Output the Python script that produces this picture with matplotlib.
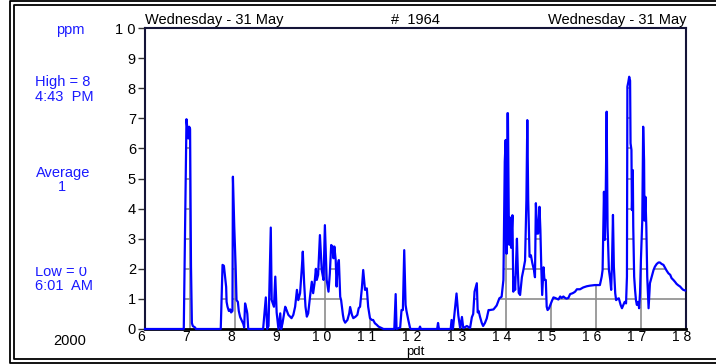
import matplotlib
matplotlib.use("Agg")
import matplotlib.pyplot as plt
from matplotlib.patches import Polygon
from matplotlib.lines import Line2D
from matplotlib.transforms import ScaledTranslation, Bbox

plt.rcParams["font.family"] = ["Liberation Sans", "DejaVu Sans"]

# hours (pdt) and ozone readings (ppm)
hours = [
    6.00, 6.86, 6.92, 6.96, 6.98, 7.00, 7.02, 7.04, 7.06, 7.11, 7.13,
    7.68, 7.72, 7.75, 7.80, 7.81, 7.83, 7.86, 7.89, 7.91, 7.94, 7.95,
    7.98, 8.01, 8.03, 8.06, 8.08, 8.11, 8.14, 8.18, 8.20, 8.22, 8.26,
    8.27, 8.29, 8.62, 8.68, 8.71, 8.74, 8.79, 8.81, 8.86, 8.89, 8.92,
    8.96, 9.00, 9.02, 9.05, 9.11, 9.14, 9.18, 9.22, 9.25, 9.29, 9.33,
    9.37, 9.40, 9.44, 9.48, 9.50, 9.53, 9.56, 9.59, 9.62, 9.66, 9.70,
    9.73, 9.76, 9.79, 9.81, 9.84, 9.88, 9.92, 9.96, 9.99, 10.03, 10.07,
    10.10, 10.13, 10.16, 10.18, 10.20, 10.23, 10.25, 10.27, 10.30, 10.33,
    10.35, 10.39, 10.41, 10.44, 10.49, 10.53, 10.55, 10.59, 10.62, 10.67,
    10.71, 10.74, 10.77, 10.81, 10.84, 10.88, 10.92, 10.95, 10.99, 11.03,
    11.06, 11.10, 11.14, 11.18, 11.25, 11.29, 11.53, 11.56, 11.58, 11.66,
    11.69, 11.72, 11.75, 11.78, 11.80, 11.84, 11.88, 11.90, 12.08, 12.10,
    12.12, 12.48, 12.50, 12.52, 12.78, 12.80, 12.83, 12.91, 12.95, 12.99,
    13.03, 13.06, 13.14, 13.21, 13.25, 13.28, 13.31, 13.36, 13.38, 13.40,
    13.43, 13.47, 13.50, 13.54, 13.58, 13.62, 13.65, 13.73, 13.80, 13.86,
    13.91, 13.95, 13.98, 14.00, 14.02, 14.04, 14.05, 14.07, 14.08, 14.10,
    14.12, 14.15, 14.17, 14.19, 14.21, 14.25, 14.27, 14.29, 14.32, 14.36,
    14.39, 14.43, 14.46, 14.48, 14.50, 14.53, 14.56, 14.59, 14.63, 14.65,
    14.67, 14.70, 14.72, 14.75, 14.77, 14.79, 14.81, 14.84, 14.86, 14.89,
    14.91, 14.93, 14.96, 15.00, 15.03, 15.06, 15.10, 15.13, 15.17, 15.21,
    15.24, 15.28, 15.32, 15.35, 15.39, 15.43, 15.47, 15.50, 15.54, 15.58,
    15.65, 15.72, 15.80, 15.87, 15.98, 16.09, 16.13, 16.15, 16.18, 16.20,
    16.22, 16.24, 16.26, 16.29, 16.32, 16.34, 16.36, 16.38, 16.40, 16.43,
    16.45, 16.48, 16.51, 16.55, 16.58, 16.61, 16.64, 16.67, 16.69, 16.70,
    16.72, 16.74, 16.76, 16.77, 16.79, 16.80, 16.82, 16.83, 16.85, 16.87,
    16.89, 16.91, 16.94, 16.96, 16.98, 17.00, 17.03, 17.05, 17.07, 17.08,
    17.10, 17.12, 17.14, 17.17, 17.20, 17.24, 17.28, 17.31, 17.35, 17.39,
    17.42, 17.46, 17.50, 17.54, 17.57, 17.61, 17.65, 17.68, 17.72, 17.76,
    17.79, 17.83, 17.87, 17.91, 17.94, 17.98,
]
ppm = [
    0, 0, 6.97, 6.33, 6.72, 6.65, 2.1, 0.2, 0.1, 0.05, 0,
    0, 2.13, 2.1, 1.4, 0.9, 0.74, 0.6, 0.65, 0.55, 0.6, 5.06,
    3.4, 2.1, 0.96, 0.9, 0.6, 0.4, 0.3, 0.17, 0.05, 0.85, 0.6,
    0.5, 0, 0, 1.05, 0, 0.1, 3.37, 0.96, 0.74, 1.74, 0.55,
    0, 0.52, 0, 0.19, 0.74, 0.63, 0.47, 0.41, 0.36, 0.47, 0.74,
    1.3, 0.96, 1.19, 2.07, 2.57, 1.52, 0.74, 0.41, 0.52, 1.07, 1.57,
    1.19, 1.52, 2.0, 1.63, 1.8, 3.12, 1.96, 1.63, 3.45, 1.63, 1.24,
    1.85, 2.79, 2.74, 2.35, 2.74, 2.29, 1.41, 2.07, 2.29, 1.07,
    0.96, 0.47, 0.3, 0.21, 0.3, 0.52, 0.73, 0.47, 0.36, 0.41,
    0.47, 0.69, 0.74, 1.35, 1.96, 1.3, 1.35, 0.74, 0.36, 0.3,
    0.3, 0.19, 0.14, 0.08, 0.03, 0, 0, 1.16, 0, 0.05,
    0.63, 0.63, 2.62, 0.8, 0.6, 0.3, 0.03, 0, 0, 0.08,
    0, 0, 0.2, 0, 0, 0.3, 0, 1.18, 0.45, 0.03,
    0.4, 0.03, 0.1, 0.03, 0.39, 0.5, 1.24, 1.52, 0.55, 0.6,
    0.41, 0.2, 0.1, 0.2, 0.35, 0.63, 0.63, 0.65, 0.78, 1.02,
    1.07, 1.63, 5.56, 6.28, 2.5, 7.17, 7.17, 3.51, 2.8, 3.7,
    2.7, 3.78, 1.24, 1.7, 1.3, 3.0, 1.94, 1.2, 1.13, 1.72,
    1.94, 2.27, 4.29, 6.94, 4.3, 2.4, 2.45, 2.2, 1.94, 1.72,
    4.18, 3.17, 3.17, 4.06, 3.3, 2.05, 1.13, 2.05, 1.63, 1.63,
    0.74, 0.63, 0.68, 0.84, 0.95, 1.05, 1.03, 1.01, 0.98, 1.08,
    1.03, 1.08, 1.03, 1.01, 1.03, 1.16, 1.18, 1.2, 1.24, 1.32,
    1.32, 1.38, 1.42, 1.44, 1.46, 1.46, 1.74, 1.96, 4.56, 2.96,
    4.5, 7.22, 3.4, 1.96, 1.63, 1.3, 2.3, 3.79, 2.07, 1.19,
    0.96, 1.0, 1.02, 0.8, 0.69, 0.8, 0.9, 0.85, 1.74, 8.05,
    8.2, 8.38, 8.25, 6.17, 5.95, 3.95, 5.28, 3.4, 1.74, 1.3,
    0.96, 0.8, 0.9, 0.69, 1.19, 2.3, 3.6, 6.72, 5.6, 3.6,
    4.39, 3.4, 1.74, 0.69, 1.52, 1.74, 1.96, 2.07, 2.16, 2.21,
    2.21, 2.16, 2.13, 2.02, 1.94, 1.85, 1.8, 1.69, 1.63, 1.56,
    1.5, 1.45, 1.41, 1.34, 1.3, 1.28,
]

x_ticks = [6, 7, 8, 9, 10, 11, 12, 13, 14, 15, 16, 17, 18]
x_labels = ["6", "7", "8", "9", "1 0", "1 1", "1 2", "1 3", "1 4", "1 5", "1 6", "1 7", "1 8"]
y_ticks = [0, 1, 2, 3, 4, 5, 6, 7, 8, 9, 10]
y_labels = ["0", "1", "2", "3", "4", "5", "6", "7", "8", "9", "1 0"]

W, H = 716, 364
BLUE = "#1a1aff"

fig = plt.figure(figsize=(W / 100, H / 100), dpi=100)
ax = fig.add_axes([145 / W, 1 - 329 / H, (686 - 145) / W, (329 - 28) / H])
ax.set_xlim(6, 18)
ax.set_ylim(0, 10)

# area under the curve, used only to clip the grid
verts = [(hours[0], 0)] + list(zip(hours, ppm)) + [(hours[-1], 0)]
area = Polygon(verts, closed=True, transform=ax.transData,
               facecolor="none", edgecolor="none")
ax.add_patch(area)

for h in x_ticks[1:-1]:
    gl = ax.axvline(h, color="#8c8c8c", lw=1.2, zorder=1)
    gl.set_clip_path(area)
for v in y_ticks[1:-1]:
    gl = ax.axhline(v, color="#8c8c8c", lw=1.2, zorder=1)
    gl.set_clip_path(area)

ax.plot(hours, ppm, color="#0000ff", lw=1.6, zorder=5, clip_on=False)

# spines
for side in ["left", "top", "right"]:
    ax.spines[side].set_color("#141438")
    ax.spines[side].set_linewidth(1.5)
ax.spines["bottom"].set_color("black")
ax.spines["bottom"].set_linewidth(2)

ax.set_xticks(x_ticks)
ax.set_xticklabels(x_labels, fontsize=10)
ax.set_yticks(y_ticks)
ax.set_yticklabels(y_labels, fontsize=10.5)
ax.tick_params(axis="x", length=0, pad=0.5)
ax.tick_params(axis="y", length=5, width=1, color="#333333", pad=1.5)
for lab in ax.get_xticklabels():
    lab.set_transform(lab.get_transform() + ScaledTranslation(-3 / 72, 0, fig.dpi_scale_trans))

ax.set_title("Wednesday - 31 May", loc="left", fontsize=10.5, pad=3)
ax.set_title("#  1964", loc="center", fontsize=10.5, pad=3)
ax.set_title("Wednesday - 31 May", loc="right", fontsize=10.5, pad=3)

# side panel
def ftext(px, py, s, size=10.5, va="center", **kw):
    return fig.text(px / W, 1 - py / H, s, fontsize=size, va=va, **kw)

ftext(415, 346.5, "pdt", size=9.5, va="top", ha="center")
ftext(70, 30, "ppm", color=BLUE, ha="center")
ftext(35, 82, "High = 8", color=BLUE, ha="left")
ftext(35, 97, "4:43  PM", color=BLUE, ha="left")
ftext(63, 173, "Average", color=BLUE, ha="center")
ftext(62, 187, "1", color=BLUE, ha="center")
low = ftext(35, 272, "Low = 0", color=BLUE, ha="left")
low.set_clip_box(Bbox([[0, 0], [W, H - 267]]))
low.set_clip_on(True)
ftext(35, 286, "6:01  AM", color=BLUE, ha="left")
ftext(70, 341, "2000", color="black", ha="center")

# double border
def frame(x0, y0, x1, y1, lw):
    xs = [x1, x0, x0, x1]
    ys = [y0, y0, y1, y1]
    fig.add_artist(Line2D([x / W for x in xs], [1 - y / H for y in ys],
                          color="black", lw=lw, transform=fig.transFigure))

frame(10, 0.8, 730, 362.6, 1.3)
frame(13.5, 5, 730, 358.8, 1.3)

fig.savefig("out.png", dpi=100)
